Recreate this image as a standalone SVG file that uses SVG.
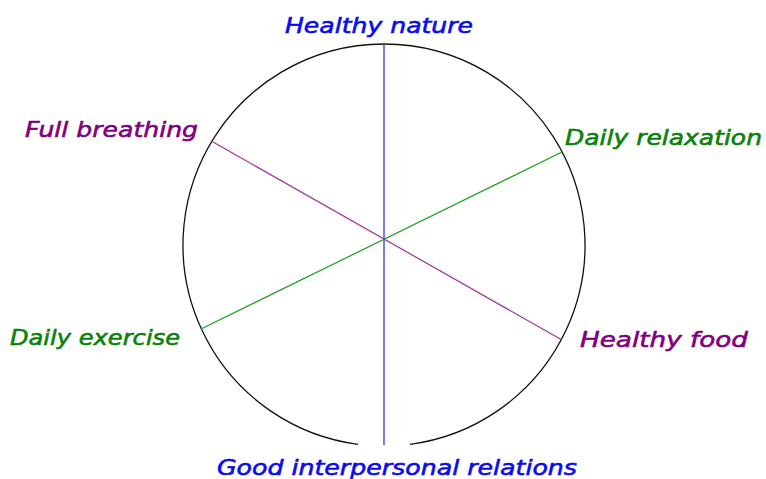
<svg xmlns="http://www.w3.org/2000/svg" width="766" height="479" viewBox="0 0 766 479">
<style>
text{font-family:"DejaVu Sans","Verdana","Liberation Sans",sans-serif;font-style:italic;font-size:22px;stroke-width:0.6}
.blue{fill:#0a0af0;stroke:#0a0af0}.purple{fill:#800080;stroke:#800080}.green{fill:#0a820a;stroke:#0a820a}
.ln{stroke-width:1.2;fill:none}
</style>
<rect width="766" height="479" fill="#fff"/>
<g id="wheel">
<path d="M410 444.3 A201 201 0 1 0 358 444.3" fill="none" stroke="#111" stroke-width="1.3"/>
</g>
<g id="connectors">
<line class="ln" x1="384" y1="45" x2="384" y2="445" stroke="#2020f0"/>
<line class="ln" x1="213" y1="142" x2="562" y2="340" stroke="#9a309a"/>
<line class="ln" x1="201" y1="329" x2="562" y2="152" stroke="#20a020"/>
</g>
<g id="healthy-nature"><text class="blue" x="285" y="33" textLength="188" lengthAdjust="spacingAndGlyphs">Healthy nature</text></g>
<g id="good-relations"><text class="blue" x="217" y="475" textLength="360" lengthAdjust="spacingAndGlyphs">Good interpersonal relations</text></g>
<g id="full-breathing"><text class="purple" x="25" y="137" textLength="173" lengthAdjust="spacingAndGlyphs">Full breathing</text></g>
<g id="daily-relaxation"><text class="green" x="565" y="145" textLength="197" lengthAdjust="spacingAndGlyphs">Daily relaxation</text></g>
<g id="daily-exercise"><text class="green" x="10" y="345" textLength="170" lengthAdjust="spacingAndGlyphs">Daily exercise</text></g>
<g id="healthy-food"><text class="purple" x="580" y="347" textLength="168" lengthAdjust="spacingAndGlyphs">Healthy food</text></g>
</svg>
